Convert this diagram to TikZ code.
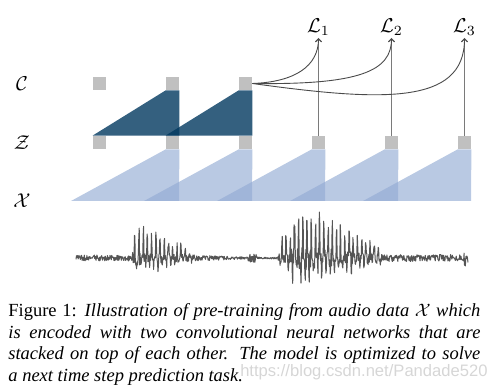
\documentclass[tikz,border=0pt]{standalone}
\usepackage{fontspec}
\setmainfont{Liberation Serif}
\newfontfamily\wmfont{Liberation Sans}
\usetikzlibrary{arrows.meta}
\definecolor{zell}{HTML}{C0C0C0}
\definecolor{ctxblau}{HTML}{01385F}
\definecolor{encblau}{HTML}{92AAD3}
\definecolor{wellen}{HTML}{555555}
\definecolor{pfeil}{HTML}{7A7A7A}
\definecolor{bogen}{HTML}{4A4A4A}
\definecolor{wmgrau}{HTML}{D6D6D6}
\tikzset{
  zelle/.style={fill=zell,minimum size=6.5pt,inner sep=0pt,draw=none},
  ctx/.style={fill=ctxblau,fill opacity=0.8},
  enc/.style={fill=encblau,fill opacity=0.64},
  pf/.style={-{Straight Barb[length=1.6pt,width=3pt]},pfeil,line width=0.5pt},
  bg/.style={-{Straight Barb[length=1.6pt,width=3pt]},bogen,line width=0.45pt},
  welle/.style={wellen,line width=0.5pt,line join=round},
  zeile/.style={font=\fontsize{10}{12}\selectfont},
}

\begin{document}
\begin{tikzpicture}[x=0.5pt,y=0.5pt,
  declare function={
    nz(\x)=(\x<132)*3+(\x>=132)*(\x<195)*(8-5*(\x-132)/63)
      +(\x>=195)*(\x<248)*(3-2*(\x-195)/53)+(\x>=248)*(\x<257)*5
      +(\x>=257)*(\x<278)*1+(\x>=278)*(\x<300)*(4+8*(\x-278)/22)
      +(\x>=300)*(\x<385)*(12-8*(\x-300)/85)+(\x>=385)*(\x<464)*3.5
      +(\x>=464)*8;
    sp(\x)=(\x>=134)*(\x<192)*(31-24*(\x-134)/58)
      +(\x>=278)*(\x<300)*(10+40*(\x-278)/22)
      +(\x>=300)*(\x<382)*(50-40*(\x-300)/82);
  }]
  \useasboundingbox (0,0) rectangle (497,391);
  % rows
  \node[zeile] (rc) at (22,307) {$\mathcal{C}$};
  \node[zeile] (rz) at (22,248) {$\mathcal{Z}$};
  \node[zeile] (rx) at (22,190) {$\mathcal{X}$};
  % cells
  \foreach \i/\x in {1/99.5,2/172.5,3/245.5}
    \node[zelle] (c\i) at (\x,307.5) {};
  \foreach \i/\x in {1/99.5,2/172.5,3/245.5,4/318.5,5/391.5,6/464.5}
    \node[zelle] (z\i) at (\x,248.5) {};
  % encoder
  \foreach \k/\x in {2/172.5,3/245.5,4/318.5,5/391.5,6/464.5}
    \fill[enc] (\x-101.5,190) -- (z\k.south west) -- (z\k.south east) -- (\x+6.5,190) -- cycle;
  % context network
  \fill[ctx] (z1.north west) -- (c2.south west) -- (c2.south east) -- (z2.north east) -- cycle;
  \fill[ctx] (z2.north west) -- (c3.south west) -- (c3.south east) -- (z3.north east) -- cycle;
  % losses
  \foreach \i/\x in {1/318.5,2/391.5,3/464.5}
    \node[zeile,inner sep=1pt,anchor=south] (l\i) at (\x,353) {$\mathcal{L}_\i$};
  \draw[pf] (z4.north) -- (l1.south);
  \draw[pf] (z5.north) -- (l2.south);
  \draw[pf] (z6.north) -- (l3.south);
  \draw[bg] (c3.east) .. controls (295,309) and (318.5,325) .. (l1.south);
  \draw[bg] (c3.east) .. controls (360,306) and (391.5,320) .. (l2.south);
  \draw[bg] (c3.east) .. controls (380,290) and (464.5,285) .. (l3.south);
  % waveform
  \pgfmathsetseed{7}
  \draw[welle] plot[samples=900,domain=76:468,variable=\t]
    (\t,{133+nz(\t)*rand+sp(\t)*(mod(\t,4.2)<0.9)*(0.7+0.3*rnd)-0.45*sp(\t)*(mod(\t+2,4.2)<0.9)*(0.5+0.5*rnd)});
  % caption
  \node[anchor=north west,inner sep=0pt,text width=236pt,align=justify,
    font=\fontsize{9.25}{10.8}\selectfont] (cap) at (8,88)
    {Figure 1: \textit{Illustration of pre-training from audio data $\mathcal{X}$ which\linebreak
     is encoded with two convolutional neural networks that are\linebreak
     stacked on top of each other. The model is optimized to solve\linebreak
     a next time step prediction task.}};
  \node[anchor=east,inner sep=0pt,text=wmgrau,font=\wmfont\fontsize{8.3}{10}\selectfont]
    (wm) at (488,19) {https://blog.csdn.net/Pandade520};
\end{tikzpicture}
\end{document}
